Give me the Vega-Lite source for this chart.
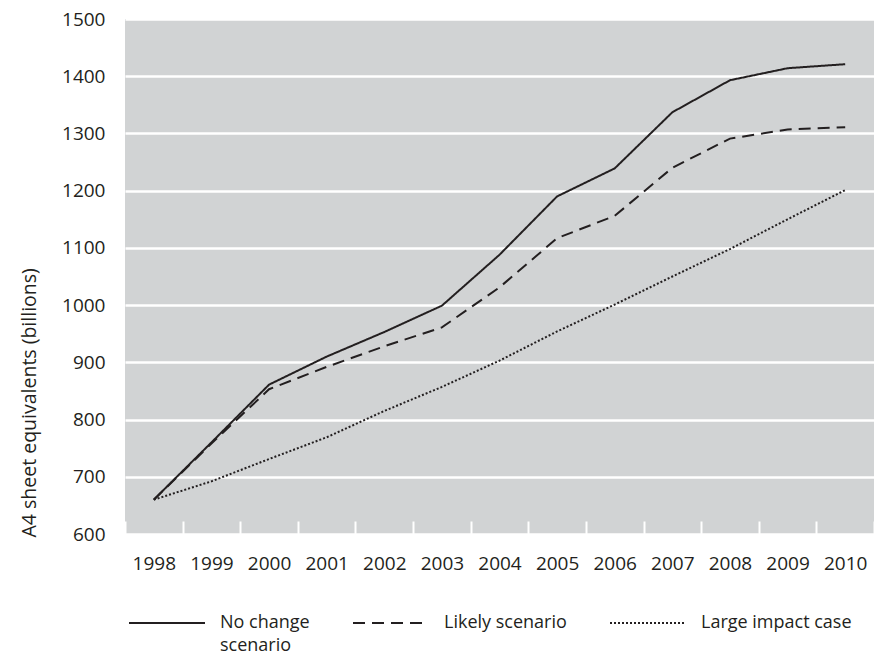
{
  "$schema": "https://vega.github.io/schema/vega-lite/v6.json",
  "width": 749,
  "height": 515,
  "autosize": "none",
  "padding": {"left": 125, "top": 19, "right": 3, "bottom": 124},
  "background": "white",
  "config": {
    "font": "Open Sans",
    "view": {"fill": "#d1d3d4", "stroke": null},
    "axis": {"labelColor": "#231f20", "titleColor": "#231f20", "labelFont": "Open Sans", "titleFont": "Open Sans", "labelFontWeight": "normal", "titleFontWeight": "normal"},
    "axisX": {"tickColor": "white"}
  },
  "data": {
    "values": [
      {"year": "1998", "scenario": "No change scenario", "value": 660},
      {"year": "1999", "scenario": "No change scenario", "value": 760},
      {"year": "2000", "scenario": "No change scenario", "value": 861},
      {"year": "2001", "scenario": "No change scenario", "value": 910},
      {"year": "2002", "scenario": "No change scenario", "value": 953},
      {"year": "2003", "scenario": "No change scenario", "value": 999},
      {"year": "2004", "scenario": "No change scenario", "value": 1088},
      {"year": "2005", "scenario": "No change scenario", "value": 1190},
      {"year": "2006", "scenario": "No change scenario", "value": 1239},
      {"year": "2007", "scenario": "No change scenario", "value": 1337},
      {"year": "2008", "scenario": "No change scenario", "value": 1393},
      {"year": "2009", "scenario": "No change scenario", "value": 1414},
      {"year": "2010", "scenario": "No change scenario", "value": 1421},
      {"year": "1998", "scenario": "Likely scenario", "value": 660},
      {"year": "1999", "scenario": "Likely scenario", "value": 758},
      {"year": "2000", "scenario": "Likely scenario", "value": 853},
      {"year": "2001", "scenario": "Likely scenario", "value": 892},
      {"year": "2002", "scenario": "Likely scenario", "value": 928},
      {"year": "2003", "scenario": "Likely scenario", "value": 961},
      {"year": "2004", "scenario": "Likely scenario", "value": 1031},
      {"year": "2005", "scenario": "Likely scenario", "value": 1117},
      {"year": "2006", "scenario": "Likely scenario", "value": 1156},
      {"year": "2007", "scenario": "Likely scenario", "value": 1240},
      {"year": "2008", "scenario": "Likely scenario", "value": 1291},
      {"year": "2009", "scenario": "Likely scenario", "value": 1307},
      {"year": "2010", "scenario": "Likely scenario", "value": 1311},
      {"year": "1998", "scenario": "Large impact case", "value": 660},
      {"year": "1999", "scenario": "Large impact case", "value": 692},
      {"year": "2000", "scenario": "Large impact case", "value": 731},
      {"year": "2001", "scenario": "Large impact case", "value": 769},
      {"year": "2002", "scenario": "Large impact case", "value": 815},
      {"year": "2003", "scenario": "Large impact case", "value": 857},
      {"year": "2004", "scenario": "Large impact case", "value": 903},
      {"year": "2005", "scenario": "Large impact case", "value": 954},
      {"year": "2006", "scenario": "Large impact case", "value": 1001},
      {"year": "2007", "scenario": "Large impact case", "value": 1050},
      {"year": "2008", "scenario": "Large impact case", "value": 1098},
      {"year": "2009", "scenario": "Large impact case", "value": 1150},
      {"year": "2010", "scenario": "Large impact case", "value": 1201}
    ]
  },
  "mark": {"type": "line", "strokeWidth": 2, "color": "#231f20"},
  "encoding": {
    "x": {
      "field": "year",
      "type": "ordinal",
      "bandPosition": 0.5,
      "scale": {"type": "band", "paddingInner": 0, "paddingOuter": 0},
      "axis": {
        "title": null,
        "labelAngle": 0,
        "labelFontSize": 19,
        "labelPadding": 33,
        "domain": false,
        "tickBand": "extent",
        "tickSize": -13,
        "tickWidth": 2,
        "tickColor": "white",
        "tickOpacity": 1,
        "grid": false
      }
    },
    "y": {
      "field": "value",
      "type": "quantitative",
      "scale": {"domain": [600, 1500], "nice": false, "zero": false},
      "axis": {
        "title": "A4 sheet equivalents (billions)",
        "titleFontSize": 19.5,
        "titlePadding": 22,
        "titleY": 518,
        "titleAlign": "left",
        "format": "d",
        "values": [600, 700, 800, 900, 1000, 1100, 1200, 1300, 1400, 1500],
        "labelFontSize": 19,
        "labelPadding": 20,
        "ticks": false,
        "domain": false,
        "grid": true,
        "gridColor": "white",
        "gridWidth": 2.5,
        "gridOpacity": 1
      }
    },
    "strokeDash": {
      "field": "scenario",
      "type": "nominal",
      "scale": {
        "domain": ["No change scenario", "Likely scenario", "Large impact case"],
        "range": [[1, 0], [12, 7], [2, 2]]
      },
      "legend": {
        "title": null,
        "orient": "none",
        "legendX": 3,
        "legendY": 565,
        "direction": "horizontal",
        "columns": 3,
        "columnPadding": 39,
        "symbolType": "stroke",
        "symbolSize": 5776,
        "symbolStrokeWidth": 2,
        "symbolStrokeColor": "#231f20",
        "labelFontSize": 18,
        "labelFont": "Open Sans",
        "labelFontWeight": "normal",
        "labelColor": "#231f20",
        "labelOffset": 14,
        "labelLimit": 400,
        "labelBaseline": "middle",
        "labelExpr": "datum.label == 'No change scenario' ? ['No change', 'scenario'] : [datum.label, ' ']",
        "encode": {"labels": {"update": {"lineHeight": {"value": 23}}}}
      }
    }
  }
}
